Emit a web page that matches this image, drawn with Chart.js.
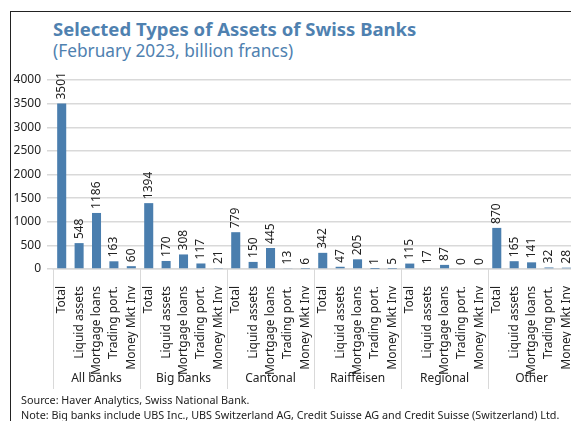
<!DOCTYPE html>
<html>
<head>
<meta charset="utf-8">
<script src="https://cdn.jsdelivr.net/npm/chart.js@4"></script>
<style>
  html, body { margin: 0; padding: 0; background: #fff; overflow: hidden; width: 571px; height: 421px; }
  body { position: relative; font-family: "Noto Sans", sans-serif; }
  #frame { position: absolute; left: 10px; top: 11px; width: 600px; height: 500px;
    border-left: 1.5px solid #222; border-top: 1.5px solid #222; }
  #title { position: absolute; left: 53px; top: 16px; font-size: 18.5px; font-weight: bold; color: #4f81b0; white-space: nowrap; }
  #subtitle { position: absolute; left: 53px; top: 39px; font-size: 17.3px; color: #4f81b0; white-space: nowrap; }
  #wrap { position: absolute; left: 0; top: 0; width: 590px; height: 421px; }
  .foot { position: absolute; left: 21px; font-size: 10.8px; color: #222; white-space: nowrap; }
</style>
</head>
<body>
<div id="frame"></div>
<div id="title">Selected Types of Assets of Swiss Banks</div>
<div id="subtitle">(February 2023, billion francs)</div>
<div id="wrap"><canvas id="assetsChart" width="590" height="421"></canvas></div>
<div class="foot" style="top:392px">Source: Haver Analytics, Swiss National Bank.</div>
<div class="foot" style="top:407px">Note: Big banks include UBS Inc., UBS Switzerland AG, Credit Suisse AG and Credit Suisse (Switzerland) Ltd.</div>
<script>
const groups = ["All banks", "Big banks", "Cantonal", "Raiffeisen", "Regional", "Other"];
const assetTypes = ["Total", "Liquid assets", "Mortgage loans", "Trading port.", "Money Mkt Inv"];
const allBanks = [3501, 548, 1186, 163, 60];
const bigBanks = [1394, 170, 308, 117, 21];
const cantonal = [779, 150, 445, 13, 6];
const raiffeisen = [342, 47, 205, 1, 5];
const regional = [115, 17, 87, 0, 0];
const other = [870, 165, 141, 32, 28];
const yTicks = [0, 500, 1000, 1500, 2000, 2500, 3000, 3500, 4000];

const seriesByGroup = [allBanks, bigBanks, cantonal, raiffeisen, regional, other];
const labels = [];
const values = [];
seriesByGroup.forEach((arr) => {
  arr.forEach((v, i) => {
    labels.push(assetTypes[i]);
    values.push(v);
  });
});

const FONT = "Noto Sans";
const GRID = "#d9d9d9";

// value labels above bars, rotated
const barLabels = {
  id: "barLabels",
  afterDatasetsDraw(chart) {
    const ctx = chart.ctx;
    const meta = chart.getDatasetMeta(0);
    ctx.save();
    ctx.font = "12px " + FONT;
    ctx.fillStyle = "#222";
    ctx.textAlign = "left";
    ctx.textBaseline = "middle";
    meta.data.forEach((bar, i) => {
      ctx.save();
      ctx.translate(bar.x, bar.y - 4);
      ctx.rotate(-Math.PI / 2);
      ctx.fillText(String(values[i]), 0, 0);
      ctx.restore();
    });
    ctx.restore();
  }
};

// group separators and group names under the axis
const groupAxis = {
  id: "groupAxis",
  afterDraw(chart) {
    const ctx = chart.ctx;
    const x = chart.scales.x;
    const area = chart.chartArea;
    const n = assetTypes.length;
    const edges = [area.left];
    for (let g = 1; g < groups.length; g++) {
      edges.push((x.getPixelForValue(g * n - 1) + x.getPixelForValue(g * n)) / 2);
    }
    const last = x.getPixelForValue(groups.length * n - 1);
    edges.push(last + (last - x.getPixelForValue(groups.length * n - 2)) / 2);
    ctx.save();
    ctx.strokeStyle = GRID;
    ctx.lineWidth = 1;
    edges.forEach((e) => {
      ctx.beginPath();
      ctx.moveTo(Math.round(e) + 0.5, area.bottom);
      ctx.lineTo(Math.round(e) + 0.5, area.bottom + 120);
      ctx.stroke();
    });
    ctx.font = "12px " + FONT;
    ctx.fillStyle = "#222";
    ctx.textAlign = "center";
    ctx.textBaseline = "middle";
    groups.forEach((name, g) => {
      ctx.fillText(name, (edges[g] + edges[g + 1]) / 2, area.bottom + 110);
    });
    ctx.restore();
  }
};

new Chart(document.getElementById("assetsChart"), {
  type: "bar",
  data: {
    labels: labels,
    datasets: [{
      data: values,
      backgroundColor: "#4a7eae",
      categoryPercentage: 1,
      barPercentage: 0.52
    }]
  },
  options: {
    responsive: false,
    animation: false,
    layout: { padding: { top: 80, right: 13, left: 0, bottom: 0 } },
    plugins: {
      legend: { display: false },
      tooltip: { enabled: false }
    },
    scales: {
      x: {
        grid: { display: false },
        border: { display: true, color: GRID, width: 1.5 },
        ticks: {
          autoSkip: false,
          minRotation: 90,
          maxRotation: 90,
          padding: 9,
          color: "#222",
          font: { family: FONT, size: 12 }
        },
        afterFit(scale) { scale.height = 152; }
      },
      y: {
        min: 0,
        max: 4000,
        afterBuildTicks(scale) { scale.ticks = yTicks.map((v) => ({ value: v })); },
        grid: { color: GRID, lineWidth: 1.5, drawTicks: true, tickLength: 6 },
        border: { display: false },
        ticks: {
          padding: 6,
          color: "#222",
          font: { family: FONT, size: 12 },
          callback: (v) => String(v)
        },
        afterFit(scale) { scale.width = 53; }
      }
    }
  },
  plugins: [barLabels, groupAxis]
});
</script>
</body>
</html>
